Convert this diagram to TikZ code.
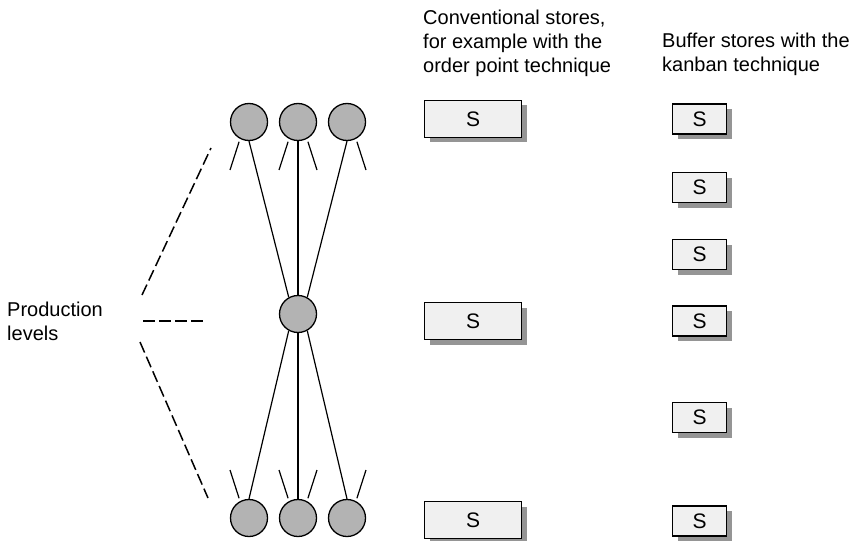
\documentclass[tikz,border=0pt]{standalone}
\usepackage{fontspec}
\setmainfont{Liberation Sans}
\usetikzlibrary{shadows}
\definecolor{boxfill}{HTML}{F0F0F0}
\definecolor{circfill}{HTML}{B3B3B3}
\definecolor{shadowgray}{HTML}{959595}
\begin{document}
\begin{tikzpicture}[x=1pt,y=-1pt,
  lev/.style={circle, draw, line width=1.3pt, fill=circfill, minimum size=37pt, inner sep=0pt},
  conn/.style={line width=1.2pt},
  vconn/.style={line width=1.6pt},
  stub/.style={line width=1.2pt, shorten <=3pt},
  dashline/.style={line width=1.5pt, dash pattern=on 11.5pt off 4.5pt},
  store/.style={draw, line width=1.1pt, fill=boxfill, inner sep=0pt,
    font=\fontsize{21}{24}\selectfont,
    drop shadow={shadow xshift=5pt, shadow yshift=-5pt, fill=shadowgray, opacity=1}},
  convbox/.style={store, minimum width=97pt, minimum height=37pt},
  kanbox/.style={store, minimum width=54pt, minimum height=30pt},
  lbl/.style={font=\fontsize{20}{24}\selectfont, align=left, inner sep=0pt, anchor=base west}
]
\useasboundingbox (0,0) rectangle (858,540);
\clip (0,0) rectangle (858,540);

% headers (anchor = baseline of the last line)
\node[lbl] (hconv) at (423,73) {Conventional stores,\\for example with the\\order point technique};
\node[lbl] (hkan) at (662,72) {Buffer stores with the\\kanban technique};
\node[lbl, font=\fontsize{20}{23.5}\selectfont] (prod) at (7,340) {Production\\levels};

% dashed level indicators
\coordinate (da1) at (142,295); \coordinate (da2) at (211,148);
\coordinate (db1) at (143,321); \coordinate (db2) at (204,321);
\coordinate (dc1) at (140,342); \coordinate (dc2) at (208,498);
\draw[dashline] (da1) -- (da2);
\draw[dashline] (db1) -- (db2);
\draw[dashline] (dc1) -- (dc2);

% stub end points
\coordinate (st1l) at (230,170);
\coordinate (st2l) at (279,170);
\coordinate (st2r) at (317,170);
\coordinate (st3r) at (366,170);
\coordinate (sb1l) at (230,470);
\coordinate (sb2l) at (279,470);
\coordinate (sb2r) at (317,470);
\coordinate (sb3r) at (366,470);

% circles
\node[lev] (t1) at (249,122) {};
\node[lev] (t2) at (298,122) {};
\node[lev] (t3) at (347,122) {};
\node[lev] (m)  at (298,314) {};
\node[lev] (b1) at (249,518) {};
\node[lev] (b2) at (298,518) {};
\node[lev] (b3) at (347,518) {};

% connectors
\draw[conn] (t1.south) -- (m.119);
\draw[vconn] (t2.south) -- (m.north);
\draw[conn] (t3.south) -- (m.61);
\draw[conn] (m.-119) -- (b1.north);
\draw[vconn] (m.south) -- (b2.north);
\draw[conn] (m.-61) -- (b3.north);

% stubs
\draw[stub] (t1.-118) -- (st1l);
\draw[stub] (t2.-118) -- (st2l);
\draw[stub] (t2.-62) -- (st2r);
\draw[stub] (t3.-62) -- (st3r);
\draw[stub] (b1.118) -- (sb1l);
\draw[stub] (b2.118) -- (sb2l);
\draw[stub] (b2.62) -- (sb2r);
\draw[stub] (b3.62) -- (sb3r);

% conventional stores
\node[convbox] (c1) at (473,119) {S};
\node[convbox] (c2) at (473,321) {S};
\node[convbox] (c3) at (473,520) {S};

% kanban stores
\node[kanbox] (k1) at (699.5,119) {S};
\node[kanbox] (k2) at (699.5,187.5) {S};
\node[kanbox] (k3) at (699.5,254.5) {S};
\node[kanbox] (k4) at (699.5,321) {S};
\node[kanbox] (k5) at (699.5,417.5) {S};
\node[kanbox] (k6) at (699.5,521) {S};
\end{tikzpicture}
\end{document}
